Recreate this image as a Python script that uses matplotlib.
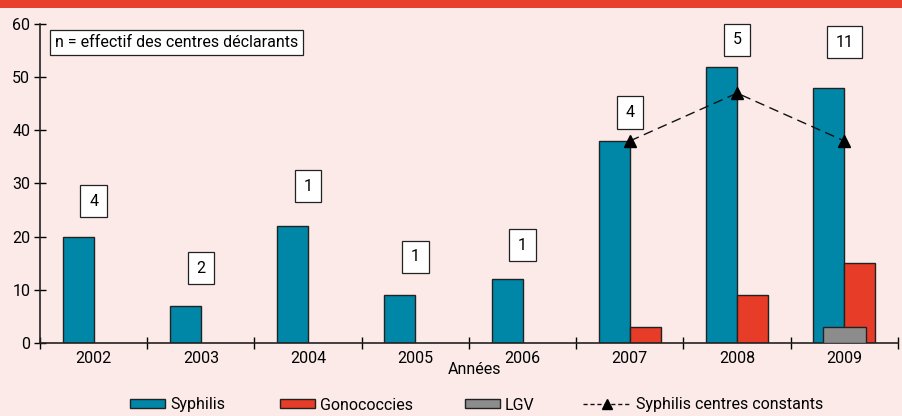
import matplotlib
matplotlib.use("Agg")
import matplotlib.pyplot as plt
from matplotlib.patches import Rectangle
from matplotlib.lines import Line2D
from matplotlib import font_manager
import numpy as np

years = ["2002", "2003", "2004", "2005", "2006", "2007", "2008", "2009"]
syphilis = [20, 7, 22, 9, 12, 38, 52, 48]
gonococcies = [0, 0, 0, 0, 0, 3, 9, 15]
lgv = [0, 0, 0, 0, 0, 0, 0, 3]
constant_years = ["2007", "2008", "2009"]
syphilis_constant = [38, 47, 38]
n_centres = ["4", "2", "1", "1", "1", "4", "5", "11"]
n_label_y = [26.7, 14.1, 29.5, 16.2, 18.4, 43.4, 57.0, 56.6]

names = {f.name for f in font_manager.fontManager.ttflist}
fam = 'Liberation Sans Narrow' if 'Liberation Sans Narrow' in names else 'Roboto'
plt.rcParams['font.family'] = [fam, 'DejaVu Sans']
FS = 12.5 if fam == 'Liberation Sans Narrow' else 11.5

BG = "#FBEAE7"
C_SYPH = "#0087A8"
C_GONO = "#E63C28"
C_LGV = "#8C8C8C"

fig = plt.figure(figsize=(9.03, 4.16), dpi=100, facecolor=BG)
fig.add_artist(Rectangle((0, 1 - 8/416), 1, 8/416, transform=fig.transFigure,
                         facecolor="#E8402A", edgecolor="none"))
ax = fig.add_axes([40/903, 1 - 343/416, (898 - 40)/903, (343 - 24)/416])
ax.set_facecolor(BG)

x = np.arange(len(years))
w = 0.29
h1 = ax.bar(x - w/2, syphilis, width=w, color=C_SYPH, edgecolor="#222222", linewidth=1, label="Syphilis", zorder=2)
gmask = np.array(gonococcies) > 0
h2 = ax.bar(x[gmask] + w/2, np.array(gonococcies)[gmask], width=w, color=C_GONO, edgecolor="#222222",
            linewidth=1, label="Gonococcies", zorder=2)
lmask = np.array(lgv) > 0
h3 = ax.bar(x[lmask], np.array(lgv)[lmask], width=0.4, color=C_LGV, edgecolor="#222222",
            linewidth=1, label="LGV", zorder=3)
cx = [years.index(y) for y in constant_years]
ax.plot(cx, syphilis_constant, linestyle=(0, (7, 4)), color="#111111", linewidth=1,
        marker="^", markersize=9, markerfacecolor="black", markeredgecolor="black",
        label="Syphilis centres constants", zorder=4)
h4 = Line2D([], [], linestyle=(0, (3, 2)), color="#111111", linewidth=1,
            marker="^", markersize=7, markerfacecolor="black", markeredgecolor="black")

for i, (n, yy) in enumerate(zip(n_centres, n_label_y)):
    ax.text(i, yy, n, ha="center", va="center", fontsize=FS,
            bbox=dict(boxstyle="square,pad=0.55", facecolor="white", edgecolor="#222222", linewidth=0.9),
            zorder=5)

ax.text(0.017, 0.965, "n = effectif des centres déclarants", transform=ax.transAxes,
        ha="left", va="top", fontsize=FS,
        bbox=dict(boxstyle="square,pad=0.3", facecolor="white", edgecolor="#222222", linewidth=0.9))

ax.set_xlim(-0.5, len(years) - 0.5)
ax.set_ylim(0, 60)
ax.set_yticks(range(0, 61, 10))
ax.set_xticks(np.arange(-0.5, len(years)), minor=False)
ax.set_xticklabels([""] * (len(years) + 1))
ax.set_xticks(x, minor=True)
ax.set_xticklabels(years, minor=True, fontsize=FS)
ax.tick_params(axis="x", which="minor", length=0, pad=6)
ax.tick_params(axis="x", which="major", direction="inout", length=8, width=1)
ax.tick_params(axis="y", direction="inout", length=8, width=1, labelsize=FS, pad=3)
for s in ["top", "right"]:
    ax.spines[s].set_visible(False)
for s in ["left", "bottom"]:
    ax.spines[s].set_linewidth(1.2)
    ax.spines[s].set_color("#222222")

fig.text(475/903, 1 - 369/416, "Années", ha="center", va="center", fontsize=FS)

entries = [(h1, "Syphilis", 130, 2.2), (h2, "Gonococcies", 280, 2.2), (h3, "LGV", 465, 2.2),
           (h4, "Syphilis centres constants", 583, 3.0)]
for h, lab, px, hl in entries:
    fig.legend([h], [lab], loc="center left", bbox_to_anchor=(px/903, 1 - 405/416),
               frameon=False, fontsize=FS, handlelength=hl, handleheight=0.5,
               handletextpad=0.3, borderaxespad=0, borderpad=0)

fig.savefig("out.png", dpi=100, facecolor=BG)
